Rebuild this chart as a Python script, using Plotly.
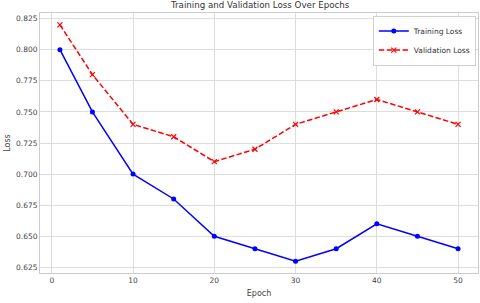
import plotly.graph_objects as go

epochs = [1, 5, 10, 15, 20, 25, 30, 35, 40, 45, 50]
train_loss = [0.80, 0.75, 0.70, 0.68, 0.65, 0.64, 0.63, 0.64, 0.66, 0.65, 0.64]
val_loss = [0.82, 0.78, 0.74, 0.73, 0.71, 0.72, 0.74, 0.75, 0.76, 0.75, 0.74]
x_ticks = [0, 10, 20, 30, 40, 50]
y_ticks = [0.625, 0.650, 0.675, 0.700, 0.725, 0.750, 0.775, 0.800, 0.825]

font = "DejaVu Sans"
fig = go.Figure()
fig.add_trace(go.Scatter(x=epochs, y=train_loss, mode="lines+markers", name="Training Loss",
                         line=dict(color="blue", width=1.5),
                         marker=dict(symbol="circle", size=5, color="blue")))
fig.add_trace(go.Scatter(x=epochs, y=val_loss, mode="lines+markers", name="Validation Loss",
                         line=dict(color="red", width=1.5, dash="5.5px,2.4px"),
                         marker=dict(symbol="x-thin", size=5, color="red",
                                     line=dict(color="red", width=1.2))))

fig.update_layout(
    width=480, height=303,
    margin=dict(l=40, r=2, t=13, b=30),
    paper_bgcolor="white", plot_bgcolor="white",
    font=dict(family=font, size=7.5, color="#444"),
    title=dict(text="Training and Validation Loss Over Epochs", x=0.542, xanchor="center",
               y=0.995, yanchor="top", font=dict(size=8.7, color="#333")),
    showlegend=True,
    legend=dict(x=0.995, y=0.99, xanchor="right", yanchor="top",
                bgcolor="rgba(255,255,255,0.9)", bordercolor="#d0d0d0", borderwidth=1,
                font=dict(size=7.5, color="#333"), tracegroupgap=0, itemwidth=30),
    xaxis=dict(range=[-1.45, 52.45], tickvals=x_ticks, showgrid=True, gridcolor="#dddddd",
               gridwidth=1, zeroline=False, showline=True, linecolor="#cccccc", mirror=True,
               ticks="", tickfont=dict(size=7.5, color="#444"),
               title=dict(text="Epoch", font=dict(size=8, color="#444"), standoff=6)),
    yaxis=dict(range=[0.6205, 0.8295], tickvals=y_ticks, tickformat=".3f", showgrid=True,
               gridcolor="#dddddd", gridwidth=1, zeroline=False, showline=True,
               linecolor="#cccccc", mirror=True, ticks="", tickfont=dict(size=7.5, color="#444"),
               title=dict(text="Loss", font=dict(size=8, color="#444"), standoff=4)),
)
fig.write_html("out.html", config={"displayModeBar": False},
               post_script="document.body.style.margin='0';")
